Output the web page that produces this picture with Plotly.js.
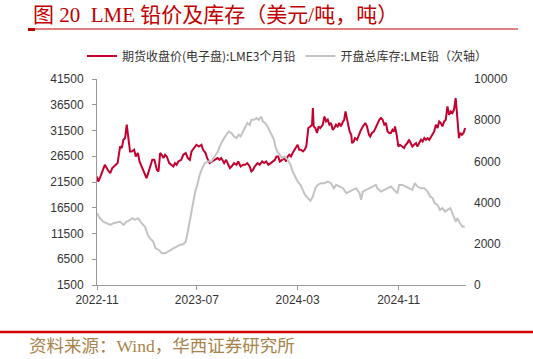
<!DOCTYPE html>
<html><head><meta charset="utf-8">
<script src="https://cdn.plot.ly/plotly-3.0.1.min.js"></script>
<style>html,body{margin:0;padding:0;background:#fff;}#chart{width:533px;height:359px;}</style>
</head><body><div id="chart"></div>
<script>
const priceDates = ["2022-11-01","2022-11-04","2022-11-08","2022-11-14","2022-11-20","2022-11-27","2022-12-03","2022-12-08","2022-12-15","2022-12-21","2022-12-27","2022-12-31","2023-01-04","2023-01-08","2023-01-12","2023-01-16","2023-01-20","2023-01-24","2023-01-30","2023-02-03","2023-02-08","2023-02-12","2023-02-17","2023-02-24","2023-03-01","2023-03-05","2023-03-09","2023-03-15","2023-03-20","2023-03-26","2023-03-30","2023-04-03","2023-04-07","2023-04-11","2023-04-15","2023-04-19","2023-04-25","2023-04-29","2023-05-05","2023-05-09","2023-05-13","2023-05-17","2023-05-24","2023-05-29","2023-06-04","2023-06-09","2023-06-14","2023-06-18","2023-06-26","2023-06-30","2023-07-06","2023-07-12","2023-07-16","2023-07-22","2023-07-26","2023-08-01","2023-08-07","2023-08-13","2023-08-20","2023-08-25","2023-08-29","2023-09-05","2023-09-10","2023-09-15","2023-09-19","2023-09-23","2023-09-29","2023-10-05","2023-10-09","2023-10-15","2023-10-21","2023-10-26","2023-10-31","2023-11-06","2023-11-10","2023-11-14","2023-11-18","2023-11-25","2023-11-30","2023-12-06","2023-12-11","2023-12-16","2023-12-21","2023-12-27","2024-01-02","2024-01-06","2024-01-10","2024-01-14","2024-01-18","2024-01-25","2024-01-29","2024-02-02","2024-02-06","2024-02-10","2024-02-14","2024-02-18","2024-02-22","2024-02-26","2024-03-01","2024-03-05","2024-03-09","2024-03-14","2024-03-18","2024-03-22","2024-03-24","2024-03-27","2024-04-01","2024-04-05","2024-04-07","2024-04-09","2024-04-13","2024-04-17","2024-04-21","2024-04-25","2024-05-01","2024-05-05","2024-05-09","2024-05-13","2024-05-17","2024-05-21","2024-05-25","2024-05-29","2024-06-02","2024-06-06","2024-06-10","2024-06-14","2024-06-19","2024-06-22","2024-06-25","2024-06-28","2024-07-01","2024-07-05","2024-07-09","2024-07-11","2024-07-15","2024-07-18","2024-07-23","2024-07-27","2024-07-31","2024-08-04","2024-08-08","2024-08-12","2024-08-16","2024-08-21","2024-08-24","2024-08-28","2024-09-02","2024-09-07","2024-09-10","2024-09-15","2024-09-19","2024-09-23","2024-09-27","2024-10-01","2024-10-05","2024-10-09","2024-10-13","2024-10-17","2024-10-21","2024-10-23","2024-10-27","2024-10-31","2024-11-04","2024-11-10","2024-11-14","2024-11-18","2024-11-22","2024-11-26","2024-11-30","2024-12-04","2024-12-08","2024-12-13","2024-12-16","2024-12-21","2024-12-25","2024-12-29","2025-01-02","2025-01-06","2025-01-10","2025-01-14","2025-01-18","2025-01-22","2025-01-26","2025-01-30","2025-02-03","2025-02-07","2025-02-11","2025-02-15","2025-02-19","2025-02-23","2025-02-27","2025-03-03","2025-03-07","2025-03-11","2025-03-15","2025-03-19","2025-03-23","2025-03-27","2025-03-30","2025-04-03","2025-04-07","2025-04-11"];
const priceValues = [22560,21590,22250,23540,24840,23870,23230,24200,24840,25170,28400,28090,29700,30030,32620,29370,27430,27430,27760,26450,27120,25480,24510,22900,22250,23230,24200,25810,25810,23870,23540,27120,26790,26140,26790,26450,25170,24840,24510,25170,24840,25480,25810,26790,27120,26140,25810,27430,28400,28730,28400,28730,27760,27120,26140,25170,25480,25810,26140,25810,26140,25170,25810,24840,24200,24510,25170,24840,25480,24510,24840,24840,25170,24510,23540,23870,24510,25170,24840,25480,25170,25480,24840,25170,25480,25810,26450,26450,25480,25810,26140,25480,26450,26790,26450,27120,27760,28090,28730,27760,27760,27430,27760,28400,30030,31980,32290,32620,35870,32290,31980,31010,32290,31980,32620,34230,33260,33590,32620,32950,31650,31980,32620,32290,32950,32290,33260,33590,35210,33920,32620,31320,30680,29060,29370,30030,29700,30680,31320,31980,32620,32950,32290,30680,30340,31010,31320,32290,32950,33590,33920,33590,32620,32950,31320,31010,31010,31650,31320,32290,30680,28400,28730,28400,28090,28730,29060,29700,29060,28400,28730,29060,28400,29060,29700,29370,30030,29700,30030,29700,30340,30680,31320,32620,31980,33260,32950,32290,33260,33590,36180,34570,35210,34900,35540,37810,34230,30030,31010,30680,31010,31980];

const stockDates = ["2022-11-01","2022-11-08","2022-11-16","2022-11-25","2022-12-03","2022-12-11","2022-12-19","2022-12-27","2023-01-04","2023-01-12","2023-01-20","2023-01-26","2023-02-01","2023-02-09","2023-02-17","2023-02-25","2023-03-04","2023-03-09","2023-03-17","2023-03-23","2023-03-31","2023-04-07","2023-04-15","2023-04-23","2023-04-29","2023-05-05","2023-05-13","2023-05-21","2023-05-29","2023-06-04","2023-06-09","2023-06-14","2023-06-19","2023-06-24","2023-06-27","2023-07-02","2023-07-08","2023-07-14","2023-07-20","2023-07-28","2023-08-05","2023-08-13","2023-08-21","2023-08-25","2023-08-29","2023-09-05","2023-09-10","2023-09-16","2023-09-23","2023-09-29","2023-10-05","2023-10-10","2023-10-15","2023-10-21","2023-10-26","2023-10-31","2023-11-06","2023-11-10","2023-11-17","2023-11-22","2023-11-28","2023-12-04","2023-12-08","2023-12-14","2023-12-19","2023-12-25","2023-12-30","2024-01-04","2024-01-07","2024-01-12","2024-01-18","2024-01-24","2024-01-29","2024-02-06","2024-02-13","2024-02-18","2024-02-24","2024-03-01","2024-03-08","2024-03-14","2024-03-19","2024-03-26","2024-04-01","2024-04-07","2024-04-13","2024-04-19","2024-04-27","2024-05-05","2024-05-13","2024-05-21","2024-05-28","2024-06-02","2024-06-10","2024-06-19","2024-06-27","2024-07-05","2024-07-13","2024-07-21","2024-07-29","2024-08-02","2024-08-06","2024-08-14","2024-08-22","2024-08-30","2024-09-07","2024-09-10","2024-09-19","2024-09-27","2024-10-05","2024-10-13","2024-10-21","2024-10-29","2024-11-02","2024-11-10","2024-11-18","2024-11-26","2024-12-04","2024-12-10","2024-12-16","2024-12-25","2025-01-02","2025-01-10","2025-01-16","2025-01-22","2025-01-27","2025-02-03","2025-02-09","2025-02-15","2025-02-21","2025-02-27","2025-03-06","2025-03-11","2025-03-15","2025-03-19","2025-03-23","2025-03-27","2025-04-01","2025-04-05","2025-04-10"];
const stockValues = [3485,3242,3076,2999,2916,2999,3047,3076,2916,3076,3159,3242,3159,3242,2999,2833,2430,2270,2104,1784,1701,1541,1541,1618,1701,1784,1861,1944,1978,2104,2590,3100,3728,4214,4534,4860,5346,5672,5915,5992,5992,6235,6478,6721,6887,7130,7290,7450,7373,7207,7130,7290,7207,7450,7693,7859,7776,8019,8019,8102,8019,8179,7936,7859,7693,7450,7290,7047,6721,6478,6318,6158,6235,6075,5832,5508,5265,5022,4860,4617,4374,4214,4082,4293,4698,4860,4942,4942,5022,4942,4698,4860,4779,4698,4455,4534,4617,4698,4455,4131,4534,4617,4698,4779,4860,4698,4534,4617,4698,4779,4617,4455,4860,4860,4779,4698,4617,4942,4779,4698,4698,4534,4293,4214,3971,3888,3645,3728,3562,3645,3728,3485,3319,3076,3242,3076,2916,2833,2833];

const seriesNames = ["期货收盘价(电子盘):LME3个月铅", "开盘总库存:LME铅（次轴）"];
const leftTicks = [1500, 6500, 11500, 16500, 21500, 26500, 31500, 36500, 41500];
const rightTicks = [0, 2000, 4000, 6000, 8000, 10000];
const titleText = "图 20  LME 铅价及库存（美元/吨，吨）";
const sourceText = "资料来源：Wind，华西证券研究所";

const W = 533, H = 359, L = 97, R = 67, T = 79, B = 74;
const pw = W - L - R, ph = H - T - B;
const px = x => (x - L) / pw;
const py = y => (H - B - y) / ph;

const traces = [
  {x: priceDates, y: priceValues, name: seriesNames[0], type: "scatter", mode: "lines",
   line: {color: "#C4002F", width: 2}, yaxis: "y"},
  {x: stockDates, y: stockValues, name: seriesNames[1], type: "scatter", mode: "lines",
   line: {color: "#C3C3C3", width: 2}, yaxis: "y2"}
];

const tickFont = {family: "Liberation Sans, Arial, sans-serif", size: 12, color: "#333"};
const layout = {
  width: W, height: H,
  margin: {l: L, r: R, t: T, b: B, pad: 0},
  paper_bgcolor: "#fff", plot_bgcolor: "#fff",
  showlegend: true,
  legend: {orientation: "h", x: px(82), y: py(56), xanchor: "left", yanchor: "middle",
    font: {family: "Noto Sans CJK SC, sans-serif", size: 12, color: "#333"},
    bgcolor: "rgba(0,0,0,0)", itemwidth: 30, tracegroupgap: 0},
  xaxis: {type: "date", range: ["2022-11-01", "2025-04-13"], tick0: "2022-11-01", dtick: "M8",
    tickformat: "%Y-%m", showgrid: false, zeroline: false, showline: true, linecolor: "#999",
    linewidth: 1, ticks: "outside", ticklen: 4, tickcolor: "#999", tickfont: tickFont},
  yaxis: {range: [1500, 41500], tickvals: leftTicks, ticktext: leftTicks.map(String),
    showgrid: false, zeroline: false,
    showline: true, linecolor: "#999", linewidth: 1, ticks: "outside", ticklen: 4,
    tickcolor: "#999", tickfont: tickFont, ticklabelstandoff: 6},
  yaxis2: {range: [0, 10000], tickvals: rightTicks, ticktext: rightTicks.map(String),
    overlaying: "y", side: "right",
    showgrid: false, zeroline: false, showline: false, ticks: "", tickfont: tickFont,
    ticklabelstandoff: 7},
  annotations: [
    {text: titleText, xref: "paper", yref: "paper", x: px(31), y: py(15), xanchor: "left",
     yanchor: "middle", showarrow: false,
     font: {family: "Liberation Serif, Noto Sans CJK SC, serif", size: 21, color: "#C00000"}},
    {text: sourceText, xref: "paper", yref: "paper", x: px(27), y: py(346), xanchor: "left",
     yanchor: "middle", showarrow: false,
     font: {family: "Liberation Serif, Noto Sans CJK SC, serif", size: 17.5, color: "#A8834C"}}
  ],
  shapes: [
    {type: "line", xref: "paper", yref: "paper", x0: px(28), x1: px(518), y0: py(29), y1: py(29),
     line: {color: "#C00000", width: 1}},
    {type: "rect", xref: "paper", yref: "paper", x0: px(28), x1: px(35), y0: py(31), y1: py(28),
     fillcolor: "#C00000", line: {width: 0}},
    {type: "line", xref: "paper", yref: "paper", x0: px(0), x1: px(533), y0: py(332), y1: py(332),
     line: {color: "#D00000", width: 2.5}}
  ]
};

Plotly.newPlot("chart", traces, layout, {displayModeBar: false, staticPlot: true});
</script></body></html>
